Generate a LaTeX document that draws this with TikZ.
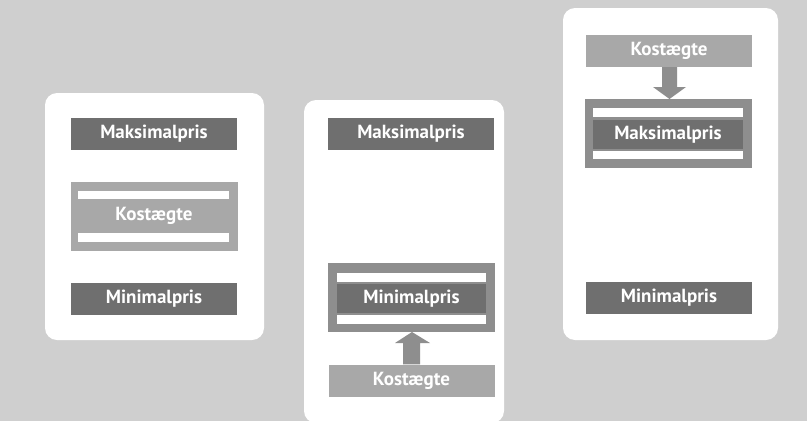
\documentclass[tikz,border=0pt]{standalone}
\usepackage{fontspec}
\setmainfont{PT Sans}
\definecolor{bg}{HTML}{CFCFCF}
\definecolor{darkbox}{HTML}{6F6F6F}
\definecolor{midbox}{HTML}{8E8E8E}
\definecolor{lightbox}{HTML}{A8A8A8}
\tikzset{
  panel/.style={fill=white, draw=none, rounded corners=12pt},
  labfont/.style={text=white, font=\bfseries\fontsize{19}{19}\selectfont},
  labelbox/.style={draw=none, minimum width=166pt, minimum height=32pt, inner sep=0pt, labfont},
  darklab/.style={labelbox, fill=darkbox},
  lightlab/.style={labelbox, fill=lightbox},
  framebox/.style={draw=none, fill=midbox, minimum width=167pt, minimum height=69pt, inner sep=0pt},
  bar/.style={fill=white, draw=none},
  bigarrow/.style={fill=midbox, draw=none}
}
\begin{document}
\begin{tikzpicture}[x=1pt,y=-1pt]
\useasboundingbox (0,0) rectangle (807,421);
\fill[bg] (0,0) rectangle (807,421);
% panels
\fill[panel] (45,93) rectangle (264,340);
\fill[panel] (304,100) rectangle (504,423);
\fill[panel] (563,8) rectangle (778,340);
% panel 1
\node[darklab] (max1) at (154,134) {Maksimalpris};
\node[framebox, fill=lightbox] (kos1) at (154,216.5) {};
\fill[bar] (78,191) rectangle (229,199);
\fill[bar] (78,233) rectangle (229,242);
\node[labfont] (kos1t) at (154,216) {Kostægte};
\node[darklab] (min1) at (154,299) {Minimalpris};
% panel 2
\node[darklab] (max2) at (411,134) {Maksimalpris};
\node[framebox] (min2f) at (411.5,297.5) {};
\fill[bar] (337,273) rectangle (486,282);
\fill[bar] (337,315) rectangle (486,324);
\node[darklab, minimum width=149pt, minimum height=29pt] (min2) at (411.5,298.5) {Minimalpris};
\node[lightlab] (kos2) at (411.5,380.5) {Kostægte};
\fill[bigarrow] (kos2.north -| 403,0) -- (403,343) -- (395,343) -- (412,332) -- (430,343) -- (420,343) -- (kos2.north -| 420,0) -- cycle;
% panel 3
\node[lightlab] (kos3) at (669,51) {Kostægte};
\node[framebox] (max3f) at (668.5,133.5) {};
\fill[bar] (593,108) rectangle (743,117);
\fill[bar] (593,151) rectangle (743,159);
\node[darklab, minimum width=150pt, minimum height=29pt] (max3) at (668,134.5) {Maksimalpris};
\node[darklab] (min3) at (669,297.5) {Minimalpris};
\fill[bigarrow] (kos3.south -| 662,0) -- (662,87) -- (653,87) -- (669.5,99) -- (686,87) -- (677,87) -- (kos3.south -| 677,0) -- cycle;
\end{tikzpicture}
\end{document}
